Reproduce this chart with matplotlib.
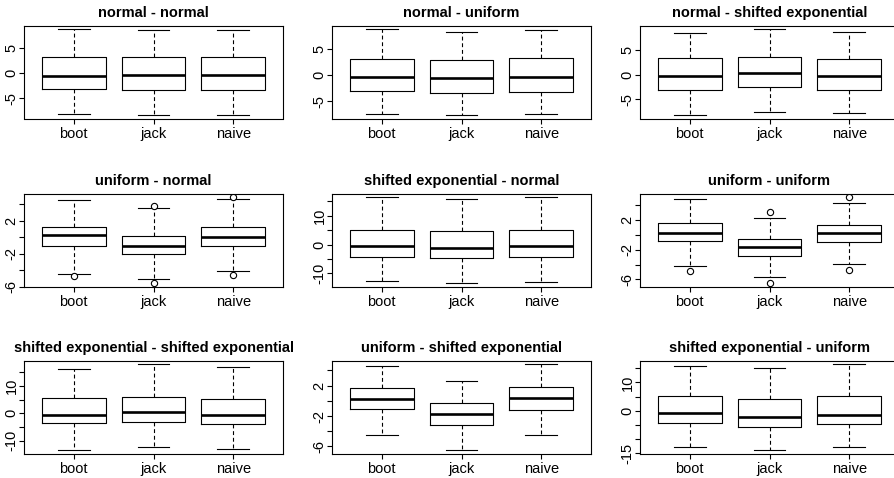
import matplotlib
matplotlib.use('Agg')
import matplotlib.pyplot as plt

plt.rcParams['font.family'] = ['Liberation Sans', 'DejaVu Sans']

titles = ['normal - normal', 'normal - uniform', 'normal - shifted exponential',
          'uniform - normal', 'shifted exponential - normal', 'uniform - uniform',
          'shifted exponential - shifted exponential', 'uniform - shifted exponential',
          'shifted exponential - uniform']
methods = ['boot', 'jack', 'naive']

# per panel, values for boot, jack, naive
whislo = [[-8.1, -8.3, -8.3], [-7.5, -7.7, -7.4], [-8.25, -7.6, -7.9],
          [-4.42, -5.1, -4.1], [-12.7, -13.4, -13.0], [-4.14, -5.7, -3.9],
          [-13.4, -12.4, -13.1], [-4.53, -6.48, -4.48], [-12.7, -13.8, -12.7]]
q1 = [[-3.15, -3.3, -3.3], [-3.1, -3.45, -3.2], [-3.1, -2.6, -3.1],
      [-1.08, -2.05, -1.03], [-4.3, -4.8, -4.3], [-0.77, -2.8, -0.96],
      [-3.7, -3.0, -4.0], [-1.13, -3.17, -1.17], [-4.2, -5.6, -4.5]]
med = [[-0.6, -0.27, -0.27], [-0.26, -0.58, -0.26], [-0.34, 0.27, -0.34],
       [0.22, -1.03, 0.02], [-0.35, -1.05, -0.6], [0.29, -1.6, 0.29],
       [-0.47, 0.5, -0.72], [0.3, -1.74, 0.4], [-0.9, -2.1, -1.3]]
q3 = [[3.2, 3.2, 3.2], [3.1, 2.95, 3.27], [3.3, 3.65, 3.16],
      [1.22, 0.18, 1.22], [5.0, 4.7, 5.2], [1.64, -0.6, 1.33],
      [5.4, 6.1, 5.05], [1.65, -0.26, 1.83], [5.3, 4.3, 5.3]]
whishi = [[8.7, 8.5, 8.5], [8.85, 8.3, 8.7], [8.4, 9.2, 8.65],
          [4.5, 3.53, 4.67], [16.4, 15.8, 16.4], [4.8, 2.27, 4.23],
          [16.1, 17.8, 16.7], [4.6, 2.65, 4.79], [15.8, 14.9, 16.3]]
fliers = [[[], [], []], [[], [], []], [[], [], []],
          [[-4.7], [3.77, -5.56], [4.86, -4.55]], [[], [], []],
          [[-4.86], [3.03, -6.49], [5.04, -4.76]],
          [[], [], []], [[], [], []], [[], [], []]]

yticks = [[-5, 0, 5], [-5, 0, 5], [-5, 0, 5],
          [-6, -4, -2, 0, 2, 4], [-10, -5, 0, 5, 10, 15], [-6, -4, -2, 0, 2, 4],
          [-10, -5, 0, 5, 10, 15], [-6, -4, -2, 0, 2, 4], [-15, -10, -5, 0, 5, 10, 15]]
yticklabels = [['-5', '0', '5'], ['-5', '0', '5'], ['-5', '0', '5'],
               ['-6', '', '-2', '', '2', ''], ['-10', '', '0', '', '10', ''],
               ['-6', '', '-2', '', '2', ''], ['-10', '', '0', '', '10', ''],
               ['-6', '', '-2', '', '2', ''], ['-15', '', '', '0', '', '10', '']]

W, H = 894, 478
fig = plt.figure(figsize=(W / 100, H / 100), dpi=100)

col_left = [24, 332, 640]
row_top = [26, 194, 361]
aw, ah = 259, 92.5

for i in range(9):
    r, c = divmod(i, 3)
    ax = fig.add_axes([col_left[c] / W, 1 - (row_top[r] + ah) / H, aw / W, ah / H])
    stats = []
    for j, m in enumerate(methods):
        stats.append(dict(label=m, whislo=whislo[i][j], q1=q1[i][j], med=med[i][j],
                          q3=q3[i][j], whishi=whishi[i][j], fliers=fliers[i][j]))
    ax.bxp(stats, positions=[1, 2, 3], widths=0.8, capwidths=0.4, showfliers=True,
           boxprops=dict(color='black', linewidth=0.8),
           whiskerprops=dict(color='black', linewidth=0.8, linestyle=(0, (3.5, 2.5))),
           capprops=dict(color='black', linewidth=0.8),
           medianprops=dict(color='black', linewidth=1.9, solid_capstyle='butt'),
           flierprops=dict(marker='o', markersize=4.5, markerfacecolor='white',
                           markeredgecolor='black', markeredgewidth=0.8, linestyle='none'))
    lo = min([whislo[i][j] for j in range(3)] + [v for f in fliers[i] for v in f])
    hi = max([whishi[i][j] for j in range(3)] + [v for f in fliers[i] for v in f])
    pad = 0.04 * (hi - lo)
    ax.set_ylim(lo - pad, hi + pad)
    ax.set_xlim(0.5 - 0.12, 3.5 + 0.12)
    ax.set_yticks(yticks[i])
    ax.set_yticklabels(yticklabels[i], rotation=90, va='center')
    ax.set_xticks([1, 2, 3])
    ax.set_xticklabels(methods)
    ax.tick_params(axis='both', direction='out', length=3.6, width=0.8,
                   labelsize=10.5, colors='black')
    ax.tick_params(axis='x', pad=2.2)
    ax.tick_params(axis='y', pad=0.3)
    for s in ax.spines.values():
        s.set_linewidth(0.8)
        s.set_color('black')
    ax.set_title(titles[i], fontsize=10.5, fontweight='bold', pad=6.8)

fig.savefig('out.png', dpi=100)
